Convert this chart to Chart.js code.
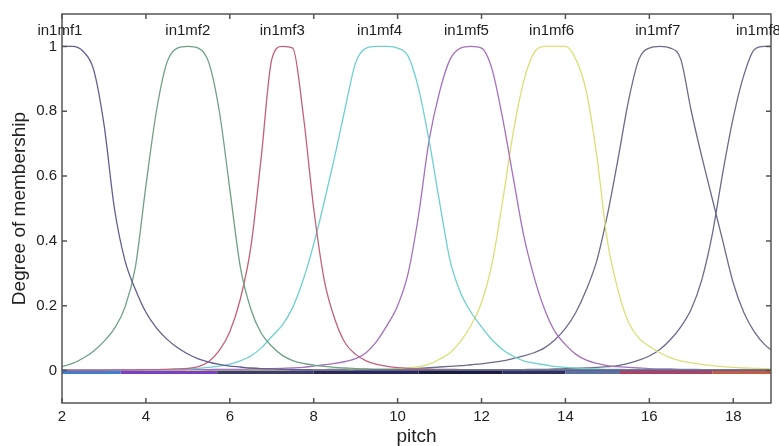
<!DOCTYPE html>
<html>
<head>
<meta charset="utf-8">
<script src="https://cdn.jsdelivr.net/npm/chart.js@4"></script>
<style>
  body { margin: 0; background: #fff; }
  #wrap { width: 779px; height: 446px; }
</style>
</head>
<body>
<div id="wrap"><canvas id="mf-chart"></canvas></div>
<script>
// sample grid (pitch)
const pitch = [2,2.25,2.5,2.75, 3,3.25,3.5,3.75, 4,4.25,4.5,4.75, 5,5.25,5.5,5.75,
  6,6.25,6.5,6.75, 7,7.25,7.5,7.75, 8,8.25,8.5,8.75, 9,9.25,9.5,9.75,
  10,10.25,10.5,10.75, 11,11.25,11.5,11.75, 12,12.25,12.5,12.75, 13,13.25,13.5,13.75,
  14,14.25,14.5,14.75, 15,15.25,15.5,15.75, 16,16.25,16.5,16.75, 17,17.25,17.5,17.75,
  18,18.25,18.5,18.75, 19];

const mf1 = [1,1,0.985,0.93, 0.76,0.5,0.34,0.25, 0.18,0.132,0.097,0.071, 0.051,0.036,0.026,0.019,
  0.014,0.011,0.008,0.006, 0.005,0.004,0.003,0.003, 0.002,0.002,0.002,0.002, 0.001,0.001,0.001,0.001,
  0.001,0.001,0.001,0.001, 0.001,0.001,0.001,0.001, 0.001,0.001,0.001,0.001, 0.001,0.001,0.001,0.001,
  0.001,0.001,0.001,0.001, 0.001,0.001,0.001,0.001, 0.001,0.001,0.001,0.001, 0.001,0.001,0.001,0.001,
  0.001,0.001,0.001,0.001, 0.001];
const mf2 = [0.012,0.022,0.038,0.06, 0.09,0.13,0.195,0.32, 0.57,0.8,0.95,0.995, 1,0.995,0.95,0.8,
  0.56,0.32,0.19,0.115, 0.075,0.047,0.031,0.022, 0.017,0.013,0.01,0.008, 0.006,0.005,0.004,0.004,
  0.003,0.003,0.003,0.002, 0.002,0.002,0.002,0.002, 0.002,0.002,0.002,0.002, 0.002,0.002,0.002,0.002,
  0.002,0.002,0.002,0.002, 0.001,0.001,0.001,0.001, 0.001,0.001,0.001,0.001, 0.001,0.001,0.001,0.001,
  0.001,0.001,0.001,0.001, 0.001];
const mf3 = [0.001,0.001,0.001,0.001, 0.001,0.002,0.002,0.002, 0.003,0.003,0.004,0.005, 0.007,0.012,0.028,0.062,
  0.12,0.22,0.38,0.66, 0.96,1,0.995,0.79, 0.5,0.28,0.16,0.085, 0.05,0.03,0.019,0.013,
  0.009,0.007,0.006,0.005, 0.004,0.004,0.003,0.003, 0.003,0.002,0.002,0.002, 0.002,0.002,0.002,0.002,
  0.002,0.002,0.001,0.001, 0.001,0.001,0.001,0.001, 0.001,0.001,0.001,0.001, 0.001,0.001,0.001,0.001,
  0.001,0.001,0.001,0.001, 0.001];
const mf4 = [0.001,0.001,0.001,0.001, 0.001,0.002,0.002,0.002, 0.002,0.003,0.003,0.004, 0.005,0.007,0.01,0.014,
  0.02,0.03,0.045,0.07, 0.105,0.14,0.195,0.28, 0.39,0.52,0.66,0.81, 0.95,0.995,1,1,
  0.995,0.97,0.87,0.71, 0.52,0.34,0.24,0.18, 0.135,0.095,0.065,0.045, 0.03,0.023,0.018,0.013,
  0.01,0.008,0.006,0.005, 0.004,0.004,0.003,0.003, 0.003,0.002,0.002,0.002, 0.002,0.002,0.002,0.002,
  0.002,0.001,0.001,0.001, 0.001];
const mf5 = [0.001,0.001,0.001,0.001, 0.001,0.001,0.001,0.002, 0.002,0.002,0.002,0.002, 0.003,0.003,0.003,0.004,
  0.004,0.004,0.005,0.005, 0.006,0.007,0.008,0.01, 0.014,0.018,0.022,0.028, 0.037,0.055,0.09,0.14,
  0.2,0.3,0.48,0.71, 0.86,0.96,0.995,1, 0.995,0.93,0.78,0.6, 0.42,0.29,0.19,0.12,
  0.08,0.05,0.032,0.022, 0.015,0.012,0.01,0.008, 0.006,0.005,0.005,0.004, 0.004,0.003,0.003,0.003,
  0.003,0.002,0.002,0.002, 0.002];
const mf6 = [0.001,0.001,0.001,0.001, 0.001,0.001,0.001,0.001, 0.001,0.001,0.001,0.001, 0.001,0.001,0.002,0.002,
  0.002,0.002,0.002,0.002, 0.002,0.002,0.003,0.003, 0.003,0.003,0.003,0.003, 0.003,0.003,0.003,0.004,
  0.005,0.008,0.012,0.02, 0.035,0.055,0.09,0.14, 0.21,0.33,0.52,0.73, 0.89,0.98,1,1,
  1,0.96,0.86,0.66, 0.4,0.25,0.15,0.1, 0.075,0.055,0.04,0.03, 0.024,0.019,0.015,0.012,
  0.01,0.008,0.007,0.006, 0.005];
const mf7 = [0.001,0.001,0.001,0.001, 0.001,0.001,0.001,0.001, 0.001,0.001,0.002,0.002, 0.002,0.002,0.002,0.002,
  0.002,0.002,0.003,0.003, 0.003,0.003,0.003,0.003, 0.003,0.003,0.004,0.004, 0.004,0.004,0.004,0.004,
  0.005,0.006,0.007,0.009, 0.011,0.013,0.015,0.018, 0.021,0.025,0.03,0.037, 0.045,0.055,0.07,0.095,
  0.13,0.18,0.25,0.34, 0.48,0.65,0.83,0.96, 0.995,1,0.995,0.96, 0.8,0.66,0.53,0.4,
  0.27,0.18,0.12,0.08, 0.055];
const mf8 = [0.001,0.001,0.001,0.001, 0.001,0.001,0.001,0.001, 0.001,0.001,0.001,0.001, 0.001,0.001,0.001,0.001,
  0.001,0.001,0.001,0.001, 0.001,0.001,0.001,0.001, 0.001,0.001,0.001,0.001, 0.002,0.002,0.002,0.002,
  0.002,0.002,0.002,0.002, 0.002,0.002,0.002,0.002, 0.002,0.002,0.003,0.003, 0.003,0.004,0.004,0.005,
  0.006,0.007,0.008,0.01, 0.012,0.015,0.022,0.032, 0.045,0.065,0.095,0.135, 0.19,0.28,0.42,0.61,
  0.78,0.91,0.99,1, 1];

const mfNames = ['in1mf1', 'in1mf2', 'in1mf3', 'in1mf4', 'in1mf5', 'in1mf6', 'in1mf7', 'in1mf8'];
const mfLabelPitch = [1.95, 5, 7.25, 9.57, 11.64, 13.67, 16.2, 18.6];

// flat line along zero drawn in several colours
const basePitch = [2, 3.4, 5.7, 8, 10.5, 12.5, 14, 15.3, 17.5, 18.9];
const baseLevel = [-0.006, -0.006, -0.006, -0.006, -0.006, -0.006, -0.006, -0.006, -0.006, -0.006];

const xTicks = [2, 4, 6, 8, 10, 12, 14, 16, 18];
const yTicks = [0, 0.2, 0.4, 0.6, 0.8, 1];

const mfColors = ['#5f5f92', '#6fa184', '#c2617a', '#6fd0d0', '#a472bd', '#dede78', '#6b6b8c', '#6b6b8c'];
const baseColors = ['#3d7fd4', '#7a3fc8', '#3c3c70', '#28285a', '#1c1c3c', '#303060', '#5a70a0', '#b04060', '#c85a40'];

const curves = [mf1, mf2, mf3, mf4, mf5, mf6, mf7, mf8];

function toPoints(xs, ys) {
    return xs.map((x, i) => ({ x: x, y: ys[i] }));
}

const datasets = curves.map((vals, i) => ({
    label: mfNames[i],
    data: toPoints(pitch, vals),
    borderColor: mfColors[i],
    borderWidth: 1.3,
    pointRadius: 0,
    cubicInterpolationMode: 'monotone',
    order: 1
}));

datasets.push({
    label: 'base',
    data: toPoints(basePitch, baseLevel),
    borderColor: baseColors[0],
    borderWidth: 3,
    pointRadius: 0,
    segment: { borderColor: ctx => baseColors[ctx.p0DataIndex] },
    order: 0
});

const fontFamily = '"Liberation Sans", Arial, sans-serif';

// box with inward ticks + mf names
const framePlugin = {
    id: 'frame',
    afterDatasetsDraw(chart) {
        const { ctx, chartArea: a, scales: { x, y } } = chart;
        ctx.save();
        ctx.strokeStyle = '#555';
        ctx.lineWidth = 1.5;
        ctx.strokeRect(a.left, a.top, a.right - a.left, a.bottom - a.top);
        ctx.beginPath();
        xTicks.forEach(v => {
            const px = x.getPixelForValue(v);
            ctx.moveTo(px, a.bottom); ctx.lineTo(px, a.bottom - 5);
            ctx.moveTo(px, a.top); ctx.lineTo(px, a.top + 5);
        });
        yTicks.forEach(v => {
            const py = y.getPixelForValue(v);
            ctx.moveTo(a.left, py); ctx.lineTo(a.left + 5, py);
            ctx.moveTo(a.right, py); ctx.lineTo(a.right - 5, py);
        });
        ctx.stroke();

        ctx.font = '15px ' + fontFamily;
        ctx.fillStyle = '#222';
        ctx.textAlign = 'center';
        ctx.textBaseline = 'middle';
        mfNames.forEach((name, i) => {
            ctx.fillText(name, x.getPixelForValue(mfLabelPitch[i]), y.getPixelForValue(1.05) + 1);
        });
        ctx.restore();
    }
};

new Chart(document.getElementById('mf-chart'), {
    type: 'line',
    data: { datasets: datasets },
    plugins: [framePlugin],
    options: {
        responsive: true,
        maintainAspectRatio: false,
        animation: false,
        layout: { padding: { left: 0, right: 8, top: 14, bottom: 0 } },
        plugins: { legend: { display: false }, tooltip: { enabled: false } },
        scales: {
            x: {
                type: 'linear',
                min: 2,
                max: 18.9,
                afterBuildTicks: scale => { scale.ticks = xTicks.map(v => ({ value: v })); },
                afterFit: scale => { scale.height = 43; },
                grid: { display: false, drawTicks: false },
                border: { display: false },
                ticks: { padding: 5, color: '#222', font: { family: fontFamily, size: 15 }, maxRotation: 0 },
                title: { display: true, text: 'pitch', color: '#222', padding: 0,
                         font: { family: fontFamily, size: 19, lineHeight: 1 } }
            },
            y: {
                min: -0.1,
                max: 1.1,
                afterBuildTicks: scale => { scale.ticks = yTicks.map(v => ({ value: v })); },
                afterFit: scale => { scale.width = 62; },
                grid: { display: false, drawTicks: false },
                border: { display: false },
                ticks: { padding: 5, color: '#222', font: { family: fontFamily, size: 15 },
                         callback: v => String(v) },
                title: { display: true, text: 'Degree of membership', color: '#222',
                         padding: { top: 10, bottom: 0 },
                         font: { family: fontFamily, size: 19, lineHeight: 1 } }
            }
        }
    }
});
</script>
</body>
</html>
